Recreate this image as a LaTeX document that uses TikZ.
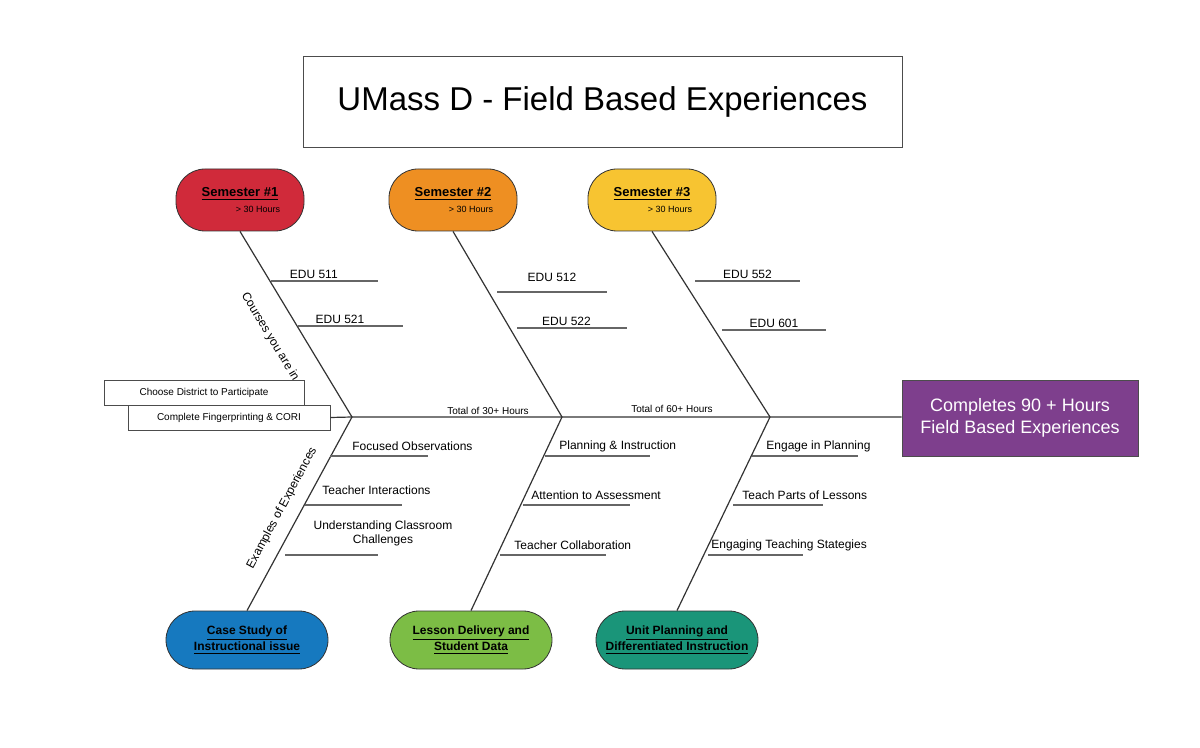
\documentclass[tikz,border=0pt]{standalone}
\usepackage{fontspec}
\setmainfont{Liberation Sans}
\usetikzlibrary{positioning, calc}
\definecolor{semred}{HTML}{D02A3A}
\definecolor{semorange}{HTML}{EE8F22}
\definecolor{semyellow}{HTML}{F7C431}
\definecolor{csblue}{HTML}{1679BF}
\definecolor{csgreen}{HTML}{7CBD45}
\definecolor{csteal}{HTML}{1A9579}
\definecolor{goalpurple}{HTML}{7E3F8D}
\tikzset{
  oval/.style={draw=black!80, rounded corners=14.5pt, minimum width=64pt, minimum height=31pt, inner sep=1pt, align=center, font=\fontsize{6.5}{8}\selectfont},
  wideoval/.style={oval, minimum width=81pt, minimum height=29pt, font=\fontsize{6}{8}\selectfont},
  bone/.style={draw=black!80, line width=0.6pt},
  twig/.style={draw=black!60, line width=0.6pt},
  lbl/.style={font=\fontsize{6}{7}\selectfont, inner sep=1pt},
  stepbox/.style={draw=black!70, fill=white, font=\fontsize{5}{6}\selectfont, minimum width=100pt, minimum height=12.5pt, inner sep=1pt}
}
\newcommand{\semlabel}[1]{\textbf{\underline{#1}}}
\begin{document}
\begin{tikzpicture}[x=0.5pt, y=-0.5pt]
  \useasboundingbox (0,0) rectangle (1200,748);

  % Title
  \node[draw=black!70, minimum width=299.5pt, minimum height=45.5pt, font=\fontsize{16.5}{19}\selectfont] (title) at (602.5,101.5) {UMass D - Field Based Experiences};

  % Goal
  \node[draw=black!70, fill=goalpurple, text=white, minimum width=118pt, minimum height=38pt, align=center, font=\fontsize{9}{11}\selectfont] (goal) at (1020,418) {Completes 90 + Hours\\Field Based Experiences};

  % Semesters
  \node[oval, fill=semred] (s1) at (240,200) {\semlabel{Semester \#1}\\\hspace*{18pt}{\fontsize{4.5}{5}\selectfont > 30 Hours}};
  \node[oval, fill=semorange] (s2) at (453,200) {\semlabel{Semester \#2}\\\hspace*{18pt}{\fontsize{4.5}{5}\selectfont > 30 Hours}};
  \node[oval, fill=semyellow] (s3) at (652,200) {\semlabel{Semester \#3}\\\hspace*{18pt}{\fontsize{4.5}{5}\selectfont > 30 Hours}};

  % Courses
  \node[wideoval, fill=csblue] (c1) at (247,640) {\semlabel{Case Study of}\\\semlabel{Instructional issue}};
  \node[wideoval, fill=csgreen] (c2) at (471,640) {\semlabel{Lesson Delivery and}\\\semlabel{Student Data}};
  \node[wideoval, fill=csteal] (c3) at (677,640) {\semlabel{Unit Planning and}\\\semlabel{Differentiated Instruction}};

  % First steps
  \node[stepbox] (district) at (204,393) {Choose District to Participate};
  \node[stepbox, minimum width=101pt] (cori) at (229,417.5) {Complete Fingerprinting \& CORI};

  % Spine and joints
  \coordinate (j1) at (352,417);
  \coordinate (j2) at (562,417);
  \coordinate (j3) at (770,417);
  \draw[bone] (cori.east) -- (j1) -- (j2) -- (j3) -- (j3 -| goal.west);
  \draw[bone] (s1.south) -- (j1) -- (c1.north);
  \draw[bone] (s2.south) -- (j2) -- (c2.north);
  \draw[bone] (s3.south) -- (j3) -- (c3.north);

  \node[lbl, font=\fontsize{5}{6}\selectfont, above] (tot30) at (488,417) {Total of 30+ Hours};
  \node[lbl, font=\fontsize{5}{6}\selectfont, above] (tot60) at (672,415) {Total of 60+ Hours};

  \node[lbl, rotate=-58.8] (courses) at (270,337) {Courses you are in};
  \node[lbl, rotate=61.9] (examples) at (282,508) {Examples of Experiences};

  % Semester twigs
  \draw[twig] (271,281) -- (378,281) node[lbl, pos=0.4, above] {EDU 511};
  \draw[twig] (298,326) -- (403,326) node[lbl, pos=0.4, above] {EDU 521};
  \draw[twig] (497,292) -- (607,292) node[lbl, pos=0.5, above=4pt] {EDU 512};
  \draw[twig] (517,328) -- (627,328) node[lbl, pos=0.45, above] {EDU 522};
  \draw[twig] (695,281) -- (800,281) node[lbl, pos=0.5, above] {EDU 552};
  \draw[twig] (722,330) -- (826,330) node[lbl, pos=0.5, above] {EDU 601};

  % Experience twigs
  \draw[twig] (330,456) -- (428,456);
  \node[lbl, right] (obs) at (350,446) {Focused Observations};
  \draw[twig] (305,505) -- (402,505);
  \node[lbl, right] (inter) at (320,490) {Teacher Interactions};
  \draw[twig] (285,555) -- (378,555);
  \node[lbl, align=center] (chal) at (383,533) {Understanding Classroom\\Challenges};

  \draw[twig] (545,456) -- (650,456);
  \node[lbl, right] (plan) at (557,446) {Planning \& Instruction};
  \draw[twig] (523,505) -- (630,505);
  \node[lbl, right] (assess) at (529,495) {Attention to Assessment};
  \draw[twig] (500,555) -- (606,555);
  \node[lbl, right] (collab) at (512,545) {Teacher Collaboration};

  \draw[twig] (752,456) -- (858,456);
  \node[lbl, right] (engage) at (764,446) {Engage in Planning};
  \draw[twig] (733,505) -- (823,505);
  \node[lbl, right] (parts) at (740,495) {Teach Parts of Lessons};
  \draw[twig] (708,555) -- (803,555);
  \node[lbl, right] (strat) at (709,545) {Engaging Teaching Stategies};
\end{tikzpicture}
\end{document}
